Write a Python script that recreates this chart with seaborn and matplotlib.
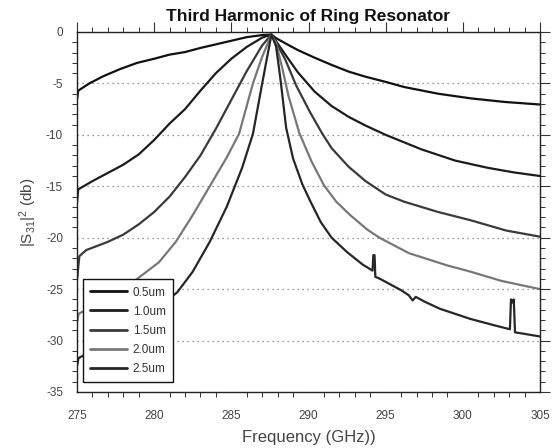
import matplotlib
matplotlib.use("Agg")
import matplotlib.pyplot as plt
from matplotlib.ticker import MultipleLocator
import numpy as np
import pandas as pd
import seaborn as sns

# Ring widths shown in the legend
widths = ["0.5um", "1.0um", "1.5um", "2.0um", "2.5um"]

# |S31|^2 (dB) versus frequency (GHz), one trace per ring width
freq_05 = [275.0, 275.08, 275.8, 276.7, 277.8, 278.9, 280.0, 281.0, 282.0, 283.0, 284.0,
           285.0, 286.0, 287.0, 287.6, 287.9, 288.5, 289.3, 290.4, 291.5, 292.6, 293.7,
           295.0, 296.2, 298.4, 300.5, 302.7, 305.0]
db_05 = [-6.6, -5.7, -5.0, -4.3, -3.6, -3.0, -2.6, -2.2, -1.95, -1.55, -1.2,
         -0.85, -0.5, -0.3, -0.25, -0.6, -1.1, -1.75, -2.5, -3.2, -3.85, -4.35,
         -4.85, -5.35, -6.0, -6.45, -6.8, -7.05]

freq_10 = [275.0, 275.08, 276.0, 277.0, 278.0, 279.0, 280.0, 281.0, 282.0, 283.0, 284.0,
           285.0, 286.0, 287.0, 287.6, 287.9, 288.5, 289.3, 290.4, 291.5, 292.6, 293.7,
           295.0, 297.3, 299.5, 301.6, 303.3, 305.0]
db_10 = [-16.6, -15.3, -14.5, -13.7, -12.9, -11.9, -10.5, -8.9, -7.5, -5.7, -4.0,
         -2.6, -1.45, -0.55, -0.25, -0.9, -2.2, -3.9, -5.8, -7.2, -8.25, -9.1,
         -10.0, -11.4, -12.5, -13.2, -13.65, -14.0]

freq_15 = [275.0, 275.15, 275.6, 277.0, 278.0, 279.0, 280.0, 281.0, 282.0, 283.0, 284.0,
           285.0, 286.0, 287.0, 287.6, 287.9, 288.5, 289.2, 290.1, 290.9, 291.5, 292.6,
           293.7, 295.0, 296.2, 298.4, 300.5, 302.8, 305.0]
db_15 = [-24.2, -21.8, -21.2, -20.4, -19.7, -18.7, -17.5, -16.0, -14.1, -12.0, -9.4,
         -6.6, -3.8, -1.3, -0.25, -1.0, -2.7, -5.2, -7.8, -9.9, -11.3, -13.1,
         -14.5, -15.8, -16.5, -17.5, -18.3, -19.3, -19.9]

freq_20 = [275.0, 275.1, 276.0, 277.0, 278.0, 278.9, 280.3, 281.4, 282.5, 283.6, 284.7,
           285.5, 286.4, 287.0, 287.6, 287.9, 288.3, 288.7, 289.4, 290.2, 291.0, 291.8,
           292.7, 293.8, 294.6, 296.5, 299.0, 300.5, 302.5, 305.0]
db_20 = [-28.3, -27.4, -26.7, -25.9, -25.0, -24.0, -22.4, -20.4, -17.8, -15.0, -12.2,
         -9.9, -5.0, -2.4, -0.25, -1.1, -3.5, -6.2, -9.8, -12.6, -14.9, -16.5,
         -17.8, -19.2, -20.0, -21.5, -22.7, -23.3, -24.2, -25.0]

freq_25 = [275.0, 275.1, 276.0, 277.0, 278.0, 279.0, 280.0, 281.0, 281.5, 282.5, 283.6,
           284.7, 285.7, 286.4, 287.0, 287.3, 287.6, 287.9, 288.2, 288.55, 289.0, 289.6,
           290.1, 290.8, 291.5, 292.5, 293.5, 294.15, 294.2, 294.28, 294.33, 294.64,
           295.5, 296.0, 296.5, 296.75, 296.95, 297.5, 298.5, 300.5, 302.0, 303.05,
           303.12, 303.2, 303.3, 303.38, 304.0, 305.0]
db_25 = [-32.5, -31.7, -31.0, -30.2, -29.3, -28.3, -27.2, -25.9, -25.3, -23.3, -20.4,
         -17.0, -13.2, -9.9, -5.0, -2.6, -0.25, -1.4, -4.8, -9.3, -12.3, -14.8,
         -16.4, -18.5, -20.0, -21.4, -22.6, -23.2, -21.7, -21.7, -23.8, -24.0,
         -24.7, -25.1, -25.6, -26.1, -25.75, -26.2, -26.9, -27.9, -28.5, -28.9,
         -26.0, -26.3, -26.0, -29.2, -29.35, -29.6]

x_ticks = [275, 280, 285, 290, 295, 300, 305]
y_ticks = [-35, -30, -25, -20, -15, -10, -5, 0]

line_colors = ["#111111", "#1c1c1c", "#3a3a3a", "#777777", "#262626"]

frames = []
for w, f, d in zip(widths,
                   [freq_05, freq_10, freq_15, freq_20, freq_25],
                   [db_05, db_10, db_15, db_20, db_25]):
    frames.append(pd.DataFrame({"freq": f, "db": d, "width": w}))
data = pd.concat(frames, ignore_index=True)

sns.set_style("white")
plt.rcParams["font.family"] = ["Liberation Sans", "DejaVu Sans"]
plt.rcParams["axes.unicode_minus"] = False
plt.rcParams["mathtext.fontset"] = "custom"
plt.rcParams["mathtext.rm"] = "Liberation Sans"
plt.rcParams["mathtext.it"] = "Liberation Sans"

fig = plt.figure(figsize=(5.52, 4.48), dpi=100)
ax = fig.add_axes([77 / 552, 1 - 392 / 448, 463 / 552, 360 / 448])

sns.lineplot(data=data, x="freq", y="db", hue="width", hue_order=widths,
             palette=dict(zip(widths, line_colors)), estimator=None, sort=False,
             linewidth=1.6, ax=ax)

ax.set_xlim(275, 305)
ax.set_ylim(-35, 0)
ax.set_xticks(x_ticks)
ax.set_yticks(y_ticks)
ax.set_xticklabels([str(t) for t in x_ticks])
ax.set_yticklabels([str(t) for t in y_ticks])
ax.xaxis.set_minor_locator(MultipleLocator(1))
ax.yaxis.set_minor_locator(MultipleLocator(1))

ax.yaxis.grid(True, which="major", linestyle=(0, (1, 3)), color="#777777", linewidth=0.9)
ax.xaxis.grid(False)

for sp in ax.spines.values():
    sp.set_visible(True)
    sp.set_color("#222222")
    sp.set_linewidth(1.0)

ax.tick_params(axis="both", which="major", direction="out", length=7, width=0.8,
               color="#333333", top=True, right=True, labelsize=8.5, labelcolor="#444444")
ax.tick_params(axis="both", which="minor", direction="out", length=3.5, width=0.7,
               color="#333333", top=True, right=True, bottom=True, left=True)
ax.tick_params(axis="x", which="major", pad=6)
ax.tick_params(axis="y", which="major", pad=3)

ax.set_title("Third Harmonic of Ring Resonator", fontsize=12.5, fontweight="bold",
             color="#111111", pad=8)
ax.set_xlabel("Frequency (GHz))", fontsize=12, color="#444444", labelpad=6)
ax.set_ylabel(r"$\mathrm{|S_{31}|^2}$ (db)", fontsize=11, color="#444444", labelpad=5)

leg = ax.legend(loc="lower left", bbox_to_anchor=(0.013, 0.028), borderaxespad=0,
                frameon=True, fancybox=False, framealpha=1, edgecolor="#111111",
                fontsize=8.5, handlelength=3.1, handletextpad=0.5, labelspacing=0.6,
                borderpad=0.6, title=None)
leg.get_frame().set_linewidth(1.0)
for h in leg.get_lines():
    h.set_linewidth(2.0)
for t in leg.get_texts():
    t.set_color("#333333")

fig.savefig("out.png", dpi=100, facecolor="white")
